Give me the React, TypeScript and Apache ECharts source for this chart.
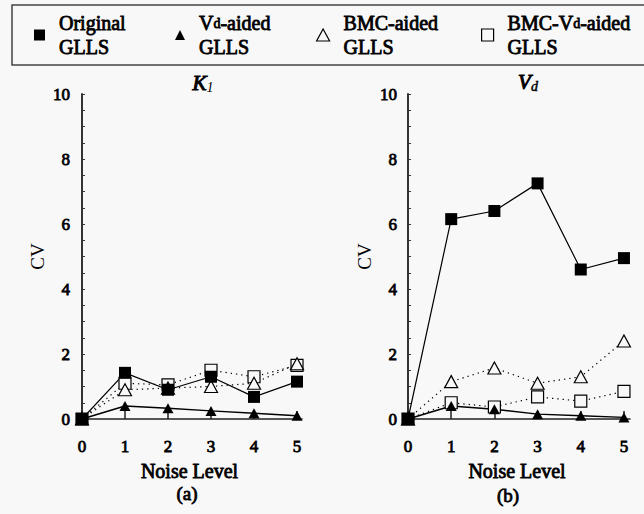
import React, { useEffect, useRef } from 'react';
import * as echarts from 'echarts';

const noiseLevels = [0, 1, 2, 3, 4, 5];
const yTickValues = [0, 2, 4, 6, 8, 10];
const seriesNames = ['Original GLLS', 'Vd-aided GLLS', 'BMC-aided GLLS', 'BMC-Vd-aided GLLS'];

// Panel (a) K1
const k1Original = [0, 1.42, 0.9, 1.3, 0.68, 1.15];
const k1VdAided = [0, 0.4, 0.33, 0.25, 0.18, 0.1];
const k1BmcAided = [0, 0.9, 0.95, 1.0, 1.1, 1.7];
const k1BmcVdAided = [0, 1.1, 1.05, 1.5, 1.3, 1.65];

// Panel (b) Vd
const vdOriginal = [0, 6.15, 6.4, 7.25, 4.6, 4.95];
const vdVdAided = [0, 0.4, 0.3, 0.15, 0.1, 0.05];
const vdBmcAided = [0, 1.15, 1.57, 1.1, 1.3, 2.4];
const vdBmcVdAided = [0, 0.5, 0.37, 0.68, 0.55, 0.85];

const BG = '#f8f8f8';
const FONT = 'Liberation Serif';
// faux-bold: regular serif with a thin outline
const BOLDISH = { textBorderColor: '#000', textBorderWidth: 0.8 };

const pts = (arr: number[]) => noiseLevels.map((x, i) => [x, arr[i]]);

function makeSeries(gi: number, orig: number[], vd: number[], bmc: number[], bmcvd: number[]) {
  return [
    {
      name: seriesNames[3], type: 'line', xAxisIndex: gi, yAxisIndex: gi, data: pts(bmcvd),
      symbol: 'rect', symbolSize: 12,
      lineStyle: { color: '#000', width: 1.2, type: [1.3, 4] },
      itemStyle: { color: BG, borderColor: '#000', borderWidth: 1.2 },
    },
    {
      name: seriesNames[2], type: 'line', xAxisIndex: gi, yAxisIndex: gi, data: pts(bmc),
      symbol: 'triangle', symbolSize: [13, 12],
      lineStyle: { color: '#000', width: 1.2, type: [1.3, 4] },
      itemStyle: { color: BG, borderColor: '#000', borderWidth: 1.2 },
    },
    {
      name: seriesNames[0], type: 'line', xAxisIndex: gi, yAxisIndex: gi, data: pts(orig),
      symbol: 'rect', symbolSize: 12,
      lineStyle: { color: '#000', width: 1.2 },
      itemStyle: { color: '#000' },
    },
    {
      name: seriesNames[1], type: 'line', xAxisIndex: gi, yAxisIndex: gi, data: pts(vd),
      symbol: 'triangle', symbolSize: [11, 10],
      lineStyle: { color: '#000', width: 1.5 },
      itemStyle: { color: '#000' },
    },
  ];
}

const legendFormatter = (name: string) =>
  name.replace('Vd', '{v|V}{sub|d}').replace(' GLLS', '\nGLLS');

function makeLegend(name: string, left: number, icon: string, filled: boolean, w: number, h: number) {
  return {
    left, top: 11, orient: 'horizontal', padding: 0,
    itemWidth: w, itemHeight: h,
    data: [{ name, icon }],
    selectedMode: false,
    formatter: legendFormatter,
    itemStyle: filled
      ? { color: '#000', borderWidth: 0 }
      : { color: BG, borderColor: '#000', borderWidth: 1.2 },
    lineStyle: { width: 0 },
    textStyle: {
      fontFamily: FONT, fontSize: 20, color: '#000', lineHeight: 24, ...BOLDISH,
      padding: [0, 0, 0, 9],
      rich: {
        v: { fontFamily: FONT, fontSize: 20, color: '#000', lineHeight: 24, ...BOLDISH },
        sub: { fontFamily: FONT, fontSize: 14, color: '#000', lineHeight: 24, ...BOLDISH },
      },
    },
  };
}

function xAxisFor(gi: number, min: number, max: number) {
  return {
    type: 'value', gridIndex: gi, min, max,
    name: 'Noise Level', nameLocation: 'middle', nameGap: 38,
    nameTextStyle: { fontFamily: FONT, fontSize: 20, color: '#000', ...BOLDISH },
    axisLine: { show: true, lineStyle: { color: '#222', width: 1.5 } },
    axisTick: { show: true, inside: true, length: 8, customValues: noiseLevels, lineStyle: { color: '#222', width: 1.5 } },
    axisLabel: { show: true, customValues: noiseLevels, margin: 19, fontFamily: FONT, fontSize: 17, color: '#000', ...BOLDISH },
    splitLine: { show: false },
  };
}

function yAxisFor(gi: number) {
  return {
    type: 'value', gridIndex: gi, min: 0, max: 10, interval: 2,
    name: 'CV', nameLocation: 'middle', nameGap: 30, nameRotate: 90,
    nameTextStyle: { fontFamily: FONT, fontSize: 19, color: '#000' },
    axisLine: { show: true, lineStyle: { color: '#333', width: 2 } },
    axisTick: { show: true, inside: true, length: 3, lineStyle: { color: '#333' } },
    minorTick: { show: true, splitNumber: 4, length: 3, lineStyle: { color: '#333' } },
    axisLabel: {
      margin: 7, fontFamily: FONT, fontSize: 17, color: '#000', ...BOLDISH,
      formatter: (v: number) => (yTickValues.includes(v) ? String(v) : ''),
    },
    splitLine: { show: false },
  };
}

export default function App() {
  const ref = useRef<HTMLDivElement>(null);
  useEffect(() => {
    if (!ref.current) return;
    const chart = echarts.init(ref.current, null, { renderer: 'svg' });
    chart.setOption({
      animation: false,
      backgroundColor: BG,
      textStyle: { fontFamily: FONT },
      legend: [
        makeLegend(seriesNames[0], 34, 'rect', true, 11, 11),
        makeLegend(seriesNames[1], 175, 'triangle', true, 10, 10),
        makeLegend(seriesNames[2], 316, 'triangle', false, 13, 12),
        makeLegend(seriesNames[3], 481, 'rect', false, 12, 12),
      ],
      grid: [
        { left: 77, right: 644 - 302, top: 94, bottom: 514 - 419, containLabel: false },
        { left: 404, right: 644 - 630, top: 94, bottom: 514 - 419, containLabel: false },
      ],
      xAxis: [xAxisFor(0, -0.116, 5.116), xAxisFor(1, -0.093, 5.14)],
      yAxis: [yAxisFor(0), yAxisFor(1)],
      series: [
        ...makeSeries(0, k1Original, k1VdAided, k1BmcAided, k1BmcVdAided),
        ...makeSeries(1, vdOriginal, vdVdAided, vdBmcAided, vdBmcVdAided),
      ],
      graphic: [
        {
          type: 'rect', shape: { x: 12, y: 5, width: 640, height: 60 },
          style: { fill: 'none', stroke: '#444', lineWidth: 1.5 }, silent: true,
        },
        {
          type: 'text', x: 203, y: 83,
          style: {
            text: '{k|K}{s|1}', align: 'center', verticalAlign: 'middle',
            rich: {
              k: { fontFamily: FONT, fontSize: 21, fontStyle: 'italic', fill: '#000', stroke: '#000', lineWidth: 1 },
              s: { fontFamily: FONT, fontSize: 14, fontStyle: 'italic', fill: '#000', padding: [8, 0, 0, 0] },
            },
          },
        },
        {
          type: 'text', x: 528, y: 82,
          style: {
            text: '{k|V}{s|d}', align: 'center', verticalAlign: 'middle',
            rich: {
              k: { fontFamily: FONT, fontSize: 21, fontStyle: 'italic', fill: '#000', stroke: '#000', lineWidth: 1 },
              s: { fontFamily: FONT, fontSize: 14, fontStyle: 'italic', fill: '#000', stroke: '#000', lineWidth: 0.5, padding: [8, 0, 0, 0] },
            },
          },
        },
        {
          type: 'text', x: 187, y: 493,
          style: { text: '(a)', align: 'center', verticalAlign: 'middle', fontFamily: FONT, fontSize: 19, fill: '#000', stroke: '#000', lineWidth: 0.8 },
        },
        {
          type: 'text', x: 508, y: 495,
          style: { text: '(b)', align: 'center', verticalAlign: 'middle', fontFamily: FONT, fontSize: 19, fill: '#000', stroke: '#000', lineWidth: 0.8 },
        },
      ],
    });
    return () => chart.dispose();
  }, []);
  return (
    <div style={{ position: 'fixed', left: 0, top: 0, width: 644, height: 514, background: BG }}>
      <div ref={ref} style={{ width: 644, height: 514 }} />
    </div>
  );
}
